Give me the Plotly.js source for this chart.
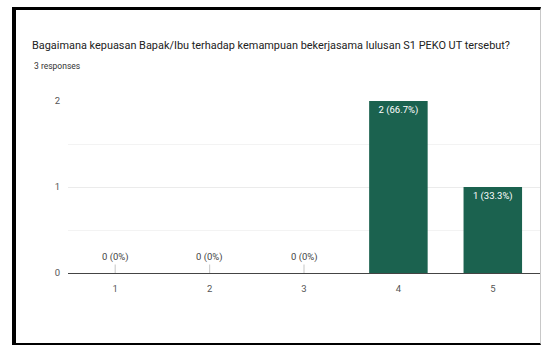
<!DOCTYPE html>
<html>
<head>
<meta charset="utf-8">
<script src="https://cdn.plot.ly/plotly-3.0.1.min.js"></script>
<style>
  html, body { margin: 0; padding: 0; background: #fff; width: 541px; height: 345px; overflow: hidden; }
  #frame { position: absolute; left: 12px; top: 7px; width: 524px; height: 333px;
           border-left: 4px solid #000; border-top: 3px solid #000; border-bottom: 2px solid #000; border-right: 1px solid #c8c8c8; }
  #chart { position: absolute; left: 0; top: 0; width: 524px; height: 333px; }
</style>
</head>
<body>
<div id="frame"><div id="chart"></div></div>
<script>
const titleText = "Bagaimana kepuasan Bapak/Ibu terhadap kemampuan bekerjasama lulusan S1 PEKO UT tersebut?";
const subtitleText = "3 responses";
const categories = ["1", "2", "3", "4", "5"];
const counts = [0, 0, 0, 2, 1];
const percents = ["0%", "0%", "0%", "66.7%", "33.3%"];
const yTicks = [0, 1, 2];

const labels = counts.map((c, i) => c + " (" + percents[i] + ")");
const barColor = "#1b624f";
const W = 524, H = 333;
const margin = {l: 52, r: 0, t: 91, b: 70};
const FONT = "Roboto, Arial, sans-serif";

const trace = {
  type: "bar",
  x: categories,
  y: counts,
  width: 0.62,
  marker: {color: barColor},
  text: counts.map((c, i) => c > 0 ? labels[i] : ""),
  textposition: "inside",
  insidetextanchor: "end",
  textangle: 0,
  textfont: {family: FONT, size: 9.5, color: "#ffffff"},
  hoverinfo: "none",
  cliponaxis: false
};

const annotations = [];
counts.forEach((c, i) => {
  if (c === 0) {
    annotations.push({
      x: i, y: 0, xref: "x", yref: "y",
      text: labels[i], showarrow: true, arrowhead: 0, arrowwidth: 1.2,
      arrowcolor: "#cfcfcf", ax: 0, ay: -16,
      font: {family: FONT, size: 9.5, color: "#444"}
    });
  }
});
annotations.push({
  xref: "paper", yref: "paper",
  x: (16 - margin.l) / (W - margin.l - margin.r),
  y: 1 + (margin.t - 56) / (H - margin.t - margin.b),
  xanchor: "left", yanchor: "middle", showarrow: false,
  text: subtitleText,
  font: {family: FONT, size: 8.5, color: "#333"}
});

const layout = {
  width: W, height: H,
  margin: margin,
  paper_bgcolor: "#ffffff",
  plot_bgcolor: "#ffffff",
  showlegend: false,
  title: {
    text: titleText,
    x: 16 / W, xref: "container", xanchor: "left",
    y: 1 - 35 / H, yref: "container", yanchor: "middle",
    font: {family: FONT, size: 11.3, color: "#222"}
  },
  xaxis: {
    type: "category",
    range: [-0.5, 4.5],
    showgrid: false,
    showline: false,
    zeroline: false,
    ticks: "",
    ticklabelstandoff: 8,
    tickfont: {family: FONT, size: 9.5, color: "#555"},
    fixedrange: true
  },
  yaxis: {
    range: [0, 2],
    tickvals: yTicks,
    ticktext: yTicks.map(String),
    showgrid: true,
    gridcolor: "#ebebeb",
    gridwidth: 1,
    zeroline: true,
    zerolinecolor: "#444",
    zerolinewidth: 1,
    showline: false,
    ticks: "",
    ticklabelstandoff: 7,
    minor: {dtick: 0.5, showgrid: true, gridcolor: "#f3f3f3", gridwidth: 1},
    tickfont: {family: FONT, size: 9.5, color: "#555"},
    fixedrange: true
  },
  annotations: annotations
};

Plotly.newPlot("chart", [trace], layout, {staticPlot: true, displayModeBar: false}).then(function (gd) {
  // The reference title is set in a condensed face; fit the real text to its measured width.
  const t = gd.querySelector(".gtitle");
  if (t) {
    t.setAttribute("textLength", "478");
    t.setAttribute("lengthAdjust", "spacingAndGlyphs");
  }
});
</script>
</body>
</html>
